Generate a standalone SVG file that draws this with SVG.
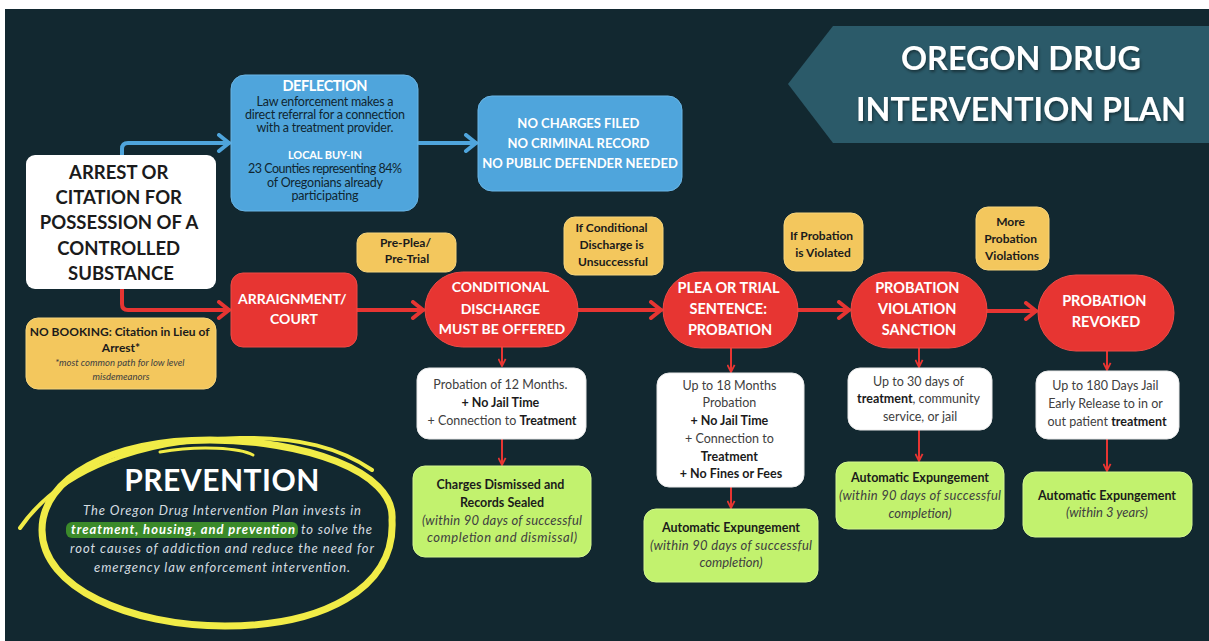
<svg xmlns="http://www.w3.org/2000/svg" width="1209" height="641" viewBox="0 0 1209 641">
<defs>
<style>
.f{font-family:Lato,"Open Sans","Liberation Sans",sans-serif}
.c{text-anchor:middle}
.b{font-weight:700}
.i{font-style:italic}
.wt{fill:#ffffff}
.dk{fill:#1b1b1b}
.gy{fill:#404040}
.db{fill:#0f2530}
.pv{fill:#d5dde0}
.blue{fill:#4fa5dc;stroke:#6bb6e6;stroke-width:1}
.red{fill:#e73532;stroke:#f04a45;stroke-width:1}
.yel{fill:#f3c75d;stroke:#f7d57c;stroke-width:1}
.grn{fill:#c2f26e;stroke:#d4f78f;stroke-width:1}
.wbox{fill:#ffffff;stroke:#e9e9e9;stroke-width:1}
.cb{fill:none;stroke:#4fa5dc;stroke-width:4;stroke-linecap:round;stroke-linejoin:round}
.cr{fill:none;stroke:#e73532;stroke-width:4;stroke-linecap:round;stroke-linejoin:round}
.cs{fill:none;stroke:#e73532;stroke-width:2}
.ring{fill:none;stroke:#f1ec47;stroke-linecap:round}
</style>
<marker id="mb" viewBox="0 0 16 20" markerWidth="16" markerHeight="20" refX="14" refY="10" orient="auto" markerUnits="userSpaceOnUse">
<path d="M4,2 L14,10 L4,18" fill="none" stroke="#4fa5dc" stroke-width="4" stroke-linecap="round" stroke-linejoin="round"/>
</marker>
<marker id="mr" viewBox="0 0 16 20" markerWidth="16" markerHeight="20" refX="14" refY="10" orient="auto" markerUnits="userSpaceOnUse">
<path d="M4,2 L14,10 L4,18" fill="none" stroke="#e73532" stroke-width="4" stroke-linecap="round" stroke-linejoin="round"/>
</marker>
<marker id="ms" viewBox="0 0 10 10" markerWidth="9" markerHeight="9" refX="9" refY="5" orient="auto" markerUnits="userSpaceOnUse">
<path d="M1,1 L9,5 L1,9" fill="none" stroke="#e73532" stroke-width="2"/>
</marker>
<filter id="sh" filterUnits="userSpaceOnUse" x="790" y="20" width="419" height="130">
<feDropShadow dx="1" dy="2" stdDeviation="1.5" flood-color="#000" flood-opacity="0.45"/>
</filter>
</defs>

<rect x="0" y="0" width="1209" height="641" fill="#ffffff"/>
<rect x="5" y="9" width="1204" height="632" fill="#122830"/>

<g id="title">
<polygon points="833,26 1209,26 1209,143 833,143 788,84" fill="#2b5a69"/>
<g filter="url(#sh)">
<text class="f b c wt" x="1021" y="70" font-size="33" textLength="240" lengthAdjust="spacingAndGlyphs">OREGON DRUG</text>
<text class="f b c wt" x="1021" y="121" font-size="33" textLength="330" lengthAdjust="spacingAndGlyphs">INTERVENTION PLAN</text>
</g>
</g>

<g id="connectors">
<path class="cb" d="M122,155 V149 Q122,143 128,143 H229" marker-end="url(#mb)"/>
<path class="cb" d="M419,143 H476" marker-end="url(#mb)"/>
<path class="cr" d="M122,289 V304 Q122,310 128,310 H229" marker-end="url(#mr)"/>
<path class="cr" d="M357,310 H423" marker-end="url(#mr)"/>
<path class="cr" d="M578,310 H661" marker-end="url(#mr)"/>
<path class="cr" d="M798,310 H849" marker-end="url(#mr)"/>
<path class="cr" d="M987,311 H1036" marker-end="url(#mr)"/>
<path class="cs" d="M502,347 V366" marker-end="url(#ms)"/>
<path class="cs" d="M502,439 V465" marker-end="url(#ms)"/>
<path class="cs" d="M731,348 V372" marker-end="url(#ms)"/>
<path class="cs" d="M731,487 V508" marker-end="url(#ms)"/>
<path class="cs" d="M919,348 V367" marker-end="url(#ms)"/>
<path class="cs" d="M919,430 V461" marker-end="url(#ms)"/>
<path class="cs" d="M1107,351 V370" marker-end="url(#ms)"/>
<path class="cs" d="M1107,439 V471" marker-end="url(#ms)"/>
</g>

<g id="arrest">
<rect x="26" y="155" width="190" height="134" rx="9" fill="#ffffff"/>
<text class="f b c dk" font-size="18.5">
<tspan x="121" y="179">ARREST OR</tspan>
<tspan x="121" y="204">CITATION FOR</tspan>
<tspan x="121" y="229">POSSESSION OF A</tspan>
<tspan x="121" y="255">CONTROLLED</tspan>
<tspan x="121" y="280">SUBSTANCE</tspan>
</text>
</g>

<g id="deflection">
<rect class="blue" x="231" y="75" width="187" height="136" rx="14"/>
<text class="f b c wt" x="325" y="91" font-size="14.5" textLength="85">DEFLECTION</text>
<text class="f c db" x="325" y="106" font-size="12.5" textLength="137">Law enforcement makes a</text>
<text class="f c db" x="325" y="119" font-size="12.5" textLength="160">direct referral for a connection</text>
<text class="f c db" x="325" y="132" font-size="12.5" textLength="137">with a treatment provider.</text>
<text class="f b c wt" x="325" y="159" font-size="11" textLength="74">LOCAL BUY-IN</text>
<text class="f c db" x="325" y="173" font-size="12.5" textLength="154">23 Counties representing 84%</text>
<text class="f c db" x="325" y="187" font-size="12.5" textLength="116">of Oregonians already</text>
<text class="f c db" x="325" y="200" font-size="12.5" textLength="67">participating</text>
</g>

<g id="no-charges">
<rect class="blue" x="478" y="96" width="204" height="95" rx="14"/>
<text class="f b c wt" font-size="13">
<tspan x="580" y="128">NO CHARGES FILED</tspan>
<tspan x="580" y="148">NO CRIMINAL RECORD</tspan>
<tspan x="580" y="168">NO PUBLIC DEFENDER NEEDED</tspan>
</text>
</g>

<g id="no-booking">
<rect class="yel" x="26" y="318" width="190" height="71" rx="12"/>
<text class="f b c dk" font-size="12">
<tspan x="121" y="336">NO BOOKING: Citation in Lieu of</tspan>
<tspan x="121" y="352">Arrest*</tspan>
</text>
<text class="f i c gy" font-size="9.5">
<tspan x="121" y="366">*most common path for low level</tspan>
<tspan x="121" y="380">misdemeanors</tspan>
</text>
</g>

<g id="arraignment">
<rect class="red" x="231" y="273" width="126" height="74" rx="12"/>
<text class="f b c wt" font-size="14">
<tspan x="294" y="304">ARRAIGNMENT/</tspan>
<tspan x="294" y="324">COURT</tspan>
</text>
</g>

<g id="pre-plea">
<rect class="yel" x="357" y="233" width="99" height="39" rx="10"/>
<text class="f b c dk" font-size="12">
<tspan x="407" y="247">Pre-Plea/</tspan>
<tspan x="407" y="263">Pre-Trial</tspan>
</text>
</g>

<g id="conditional-discharge">
<rect class="red" x="425" y="272" width="153" height="75" rx="37.5"/>
<text class="f b c wt" font-size="14">
<tspan x="502" y="292">CONDITIONAL</tspan>
<tspan x="502" y="314">DISCHARGE</tspan>
<tspan x="502" y="334">MUST BE OFFERED</tspan>
</text>
</g>

<g id="if-conditional">
<rect class="yel" x="564" y="217" width="99" height="58" rx="11"/>
<text class="f b c dk" font-size="12">
<tspan x="613" y="232">If Conditional</tspan>
<tspan x="613" y="249">Discharge is</tspan>
<tspan x="613" y="266">Unsuccessful</tspan>
</text>
</g>

<g id="plea-trial">
<rect class="red" x="663" y="272" width="135" height="76" rx="38"/>
<text class="f b c wt" font-size="14.5">
<tspan x="730" y="293">PLEA OR TRIAL</tspan>
<tspan x="730" y="314">SENTENCE:</tspan>
<tspan x="730" y="335">PROBATION</tspan>
</text>
</g>

<g id="if-probation">
<rect class="yel" x="784" y="213" width="79" height="58" rx="12"/>
<text class="f b c dk" font-size="12">
<tspan x="823" y="240">If Probation</tspan>
<tspan x="823" y="257">is Violated</tspan>
</text>
</g>

<g id="violation-sanction">
<rect class="red" x="851" y="272" width="136" height="76" rx="38"/>
<text class="f b c wt" font-size="14.5">
<tspan x="919" y="293">PROBATION</tspan>
<tspan x="919" y="314">VIOLATION</tspan>
<tspan x="919" y="335">SANCTION</tspan>
</text>
</g>

<g id="more-violations">
<rect class="yel" x="976" y="207" width="73" height="63" rx="12"/>
<text class="f b c dk" font-size="12">
<tspan x="1012" y="226">More</tspan>
<tspan x="1012" y="243">Probation</tspan>
<tspan x="1012" y="260">Violations</tspan>
</text>
</g>

<g id="revoked">
<rect class="red" x="1038" y="275" width="136" height="76" rx="38"/>
<text class="f b c wt" font-size="14.5">
<tspan x="1106" y="306">PROBATION</tspan>
<tspan x="1106" y="327">REVOKED</tspan>
</text>
</g>

<g id="cd-terms">
<rect class="wbox" x="417" y="368" width="169" height="71" rx="12"/>
<text class="f c gy" font-size="12.5">
<tspan x="502" y="389">Probation of 12 Months.</tspan>
<tspan x="502" y="407" class="b dk">+ No Jail Time</tspan>
<tspan x="502" y="425">+ Connection to <tspan class="b dk">Treatment</tspan></tspan>
</text>
</g>

<g id="cd-result">
<rect class="grn" x="413" y="466" width="178" height="91" rx="12"/>
<text class="f b c dk" font-size="12.5">
<tspan x="502" y="489">Charges Dismissed and</tspan>
<tspan x="502" y="507">Records Sealed</tspan>
</text>
<text class="f i c gy" x="502" y="525" font-size="13" textLength="160">(within 90 days of successful</text>
<text class="f i c gy" x="502" y="542" font-size="13" textLength="150">completion and dismissal)</text>
</g>

<g id="plea-terms">
<rect class="wbox" x="657" y="373" width="147" height="114" rx="12"/>
<text class="f c gy" font-size="12.5">
<tspan x="731" y="390">Up to 18 Months</tspan>
<tspan x="731" y="407">Probation</tspan>
<tspan x="731" y="425" class="b dk">+ No Jail Time</tspan>
<tspan x="731" y="443">+ Connection to</tspan>
<tspan x="731" y="461" class="b dk">Treatment</tspan>
<tspan x="731" y="478" class="b dk">+ No Fines or Fees</tspan>
</text>
</g>

<g id="plea-result">
<rect class="grn" x="644" y="509" width="174" height="73" rx="12"/>
<text class="f b c dk" x="731" y="532" font-size="12.5">Automatic Expungement</text>
<text class="f i c gy" x="731" y="550" font-size="13" textLength="162">(within 90 days of successful</text>
<text class="f i c gy" x="731" y="567" font-size="13">completion)</text>
</g>

<g id="sanction-terms">
<rect class="wbox" x="848" y="368" width="144" height="62" rx="12"/>
<text class="f c gy" font-size="12.5">
<tspan x="920" y="386">Up to 30 days of</tspan>
<tspan x="920" y="403"><tspan class="b dk">treatment</tspan>, community</tspan>
<tspan x="920" y="421">service, or jail</tspan>
</text>
</g>

<g id="sanction-result">
<rect class="grn" x="836" y="462" width="168" height="67" rx="12"/>
<text class="f b c dk" x="920" y="482" font-size="12.5">Automatic Expungement</text>
<text class="f i c gy" x="920" y="500" font-size="13" textLength="162">(within 90 days of successful</text>
<text class="f i c gy" x="920" y="518" font-size="13">completion)</text>
</g>

<g id="revoked-terms">
<rect class="wbox" x="1036" y="371" width="143" height="68" rx="12"/>
<text class="f c gy" font-size="12.5">
<tspan x="1107" y="390">Up to 180 Days Jail</tspan>
<tspan x="1107" y="408">Early Release to in or</tspan>
<tspan x="1107" y="426">out patient <tspan class="b dk">treatment</tspan></tspan>
</text>
</g>

<g id="revoked-result">
<rect class="grn" x="1023" y="472" width="169" height="65" rx="12"/>
<text class="f b c dk" x="1107" y="500" font-size="12.5">Automatic Expungement</text>
<text class="f i c gy" x="1107" y="517" font-size="13">(within 3 years)</text>
</g>

<g id="prevention">
<path class="ring" stroke-width="7" d="M392,520 C396,470 300,440 210,440 C110,440 42,478 42,530 C42,588 130,626 225,626 C320,626 396,590 392,520 Z"/>
<path class="ring" stroke-width="4" d="M20,528 C60,470 140,440 240,438 C300,437 340,448 372,470"/>
<path class="ring" stroke-width="3" d="M160,452 C200,445 240,448 253,455"/>
<text class="f b c wt" x="222" y="491" font-size="30" letter-spacing="0.5">PREVENTION</text>
<text class="f i c pv" x="222" y="515" font-size="13" textLength="278">The Oregon Drug Intervention Plan invests in</text>
<rect x="66" y="522" width="232" height="16" rx="6" fill="#3b8a2a"/>
<text class="f i b wt" x="71" y="534" font-size="13" textLength="224">treatment, housing, and prevention</text>
<text class="f i pv" x="301" y="534" font-size="13" textLength="71">to solve the</text>
<text class="f i c pv" x="222" y="553" font-size="13" textLength="304">root causes of addiction and reduce the need for</text>
<text class="f i c pv" x="222" y="572" font-size="13" textLength="256">emergency law enforcement intervention.</text>
</g>
</svg>
